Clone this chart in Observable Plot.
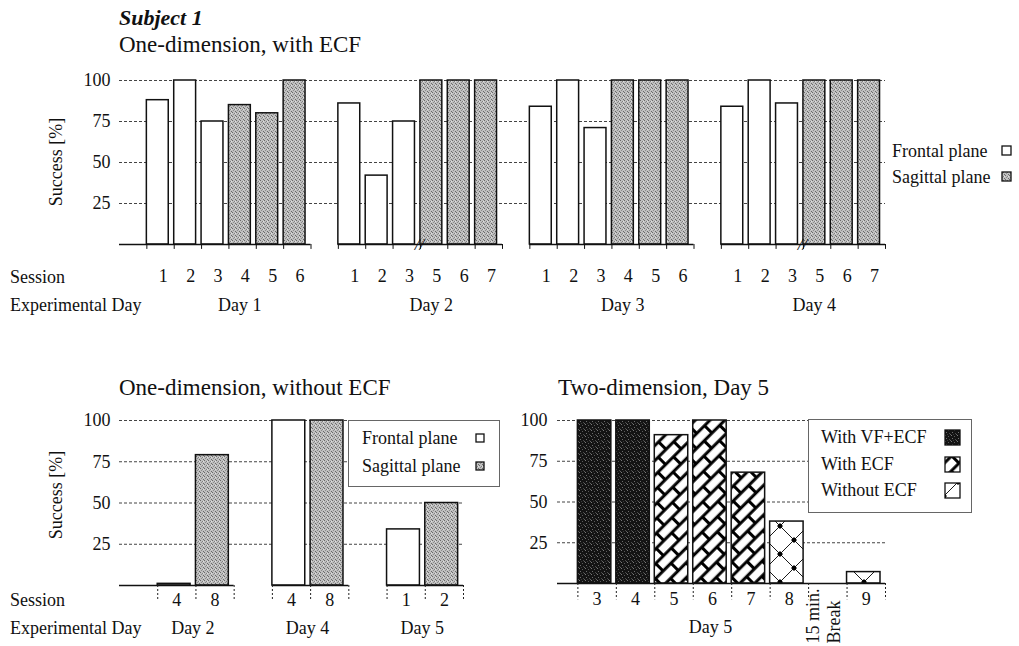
<!DOCTYPE html>
<html><head><meta charset="utf-8">
<script src="https://cdn.jsdelivr.net/npm/d3@7"></script>
<script src="https://cdn.jsdelivr.net/npm/@observablehq/plot@0.6"></script>
<style>
body{margin:0;background:#fff;}
#root{position:relative;width:1019px;height:646px;font-family:"Liberation Serif","Times New Roman",serif;color:#111;overflow:hidden;background:#fff;}
.t{position:absolute;white-space:nowrap;line-height:1;transform:translateY(-50%);}
.legbox{position:absolute;background:#fff;border:1px solid #666;box-sizing:border-box;}
</style></head><body>
<div id="root">
<svg width="0" height="0" style="position:absolute">
<defs>
 <pattern id="stip" width="4" height="4" patternUnits="userSpaceOnUse">
  <rect width="4" height="4" fill="#c0c0c0"/>
  <rect x="0" y="0" width="1" height="1" fill="#6a6a6a"/>
  <rect x="2" y="1" width="1" height="1" fill="#808080"/>
  <rect x="1" y="2" width="1" height="1" fill="#8c8c8c"/>
  <rect x="3" y="3" width="1" height="1" fill="#6a6a6a"/>
  <rect x="3" y="1" width="1" height="1" fill="#e0e0e0"/>
 </pattern>
 <pattern id="dark" width="6" height="6" patternUnits="userSpaceOnUse">
  <rect width="6" height="6" fill="#141414"/>
  <rect x="1" y="0" width="1" height="1" fill="#777"/>
  <rect x="4" y="1" width="1" height="1" fill="#5a5a5a"/>
  <rect x="2" y="3" width="1" height="1" fill="#6e6e6e"/>
  <rect x="5" y="4" width="1" height="1" fill="#4a4a4a"/>
  <rect x="0" y="5" width="1" height="1" fill="#606060"/>
  <rect x="3" y="5" width="1" height="1" fill="#3a3a3a"/>
 </pattern>
 <pattern id="brick" width="22" height="21" patternUnits="userSpaceOnUse" patternTransform="rotate(-45)">
  <rect width="22" height="21" fill="#fff"/>
  <path d="M0,5.25H22M0,15.75H22M5.5,5.25V15.75M16.5,15.75V21M16.5,0V5.25" stroke="#000" stroke-width="3" fill="none"/>
 </pattern>
 <pattern id="diam" width="28" height="28" patternUnits="userSpaceOnUse">
  <rect width="28" height="28" fill="#fff"/>
  <path d="M0,14L14,0L28,14L14,28Z" stroke="#000" stroke-width="0.9" fill="none"/>
  <path d="M14,-3L17,0L14,3L11,0Z M14,25L17,28L14,31L11,28Z M0,11L3,14L0,17L-3,14Z M28,11L31,14L28,17L25,14Z" fill="#000"/>
 </pattern>
</defs></svg>
</div>
<script>
// ---------------- data ----------------
const mainTitle = "Subject 1";
const subtitles = ["One-dimension, with ECF", "One-dimension, without ECF", "Two-dimension, Day 5"];
const yLabel = "Success [%]";
const rowLabels = ["Session", "Experimental Day"];
const yTicks = [25, 50, 75, 100];

// Top panel: one-dimension, with ECF
const topDays = ["Day 1", "Day 2", "Day 3", "Day 4"];
const topSessions = [["1","2","3","4","5","6"], ["1","2","3","5","6","7"], ["1","2","3","4","5","6"], ["1","2","3","5","6","7"]];
const topPlanes = [
  ["Frontal","Frontal","Frontal","Sagittal","Sagittal","Sagittal"],
  ["Frontal","Frontal","Frontal","Sagittal","Sagittal","Sagittal"],
  ["Frontal","Frontal","Frontal","Sagittal","Sagittal","Sagittal"],
  ["Frontal","Frontal","Frontal","Sagittal","Sagittal","Sagittal"]
];
const topSuccess = [[88, 100, 75, 85, 80, 100], [86, 42, 75, 100, 100, 100], [84, 100, 71, 100, 100, 100], [84, 100, 86, 100, 100, 100]];
const topBreakAt = [null, 3, null, 3];

// Bottom-left panel: one-dimension, without ECF
const noEcfDays = ["Day 2", "Day 4", "Day 5"];
const noEcfSessions = [["4","8"], ["4","8"], ["1","2"]];
const noEcfPlanes = [["Frontal","Sagittal"], ["Frontal","Sagittal"], ["Frontal","Sagittal"]];
const noEcfSuccess = [[1, 79], [100, 100], [34, 50]];

// Bottom-right panel: two-dimension, day 5
const twoDDay = "Day 5";
const twoDSlots = ["3", "4", "5", "6", "7", "8", "15 min.\nBreak", "9"];
const twoDSuccess = [100, 100, 91, 100, 68, 38, 0, 7];
const twoDFeedback = ["With VF+ECF", "With VF+ECF", "With ECF", "With ECF", "With ECF", "Without ECF", null, "Without ECF"];

const planeLegend = ["Frontal plane", "Sagittal plane"];
const feedbackLegend = ["With VF+ECF", "With ECF", "Without ECF"];

// ---------------- styles ----------------
const planeFill = {"Frontal": "white", "Sagittal": "url(#stip)"};
const feedbackFill = {"With VF+ECF": "url(#dark)", "With ECF": "url(#brick)", "Without ECF": "url(#diam)"};
const FONT = '"Liberation Serif", "Times New Roman", serif';
const plotStyle = {fontFamily: FONT, fontSize: "18px", background: "transparent", overflow: "visible", color: "#111"};
const gridOpts = {stroke: "#444", strokeDasharray: "3,2", strokeWidth: 1};

const root = document.getElementById("root");
function addText(str, x, y, o = {}) {
  const d = document.createElement("div");
  d.className = "t";
  d.textContent = str;
  d.style.left = x + "px"; d.style.top = y + "px";
  d.style.fontSize = (o.size || 18) + "px";
  if (o.weight) d.style.fontWeight = o.weight;
  if (o.italic) d.style.fontStyle = "italic";
  if (o.rotate) d.style.transform = "translate(-50%,-50%) rotate(-90deg)";
  d.style.zIndex = 5;
  root.appendChild(d);
  return d;
}
function addSwatch(fill, x, y, s) {
  const ns = "http://www.w3.org/2000/svg";
  const svg = document.createElementNS(ns, "svg");
  svg.setAttribute("width", s + 2); svg.setAttribute("height", s + 2);
  svg.style.position = "absolute"; svg.style.left = x + "px"; svg.style.top = y + "px"; svg.style.zIndex = 6;
  const r = document.createElementNS(ns, "rect");
  r.setAttribute("x", 1); r.setAttribute("y", 1); r.setAttribute("width", s); r.setAttribute("height", s);
  r.setAttribute("fill", fill); r.setAttribute("stroke", "#111"); r.setAttribute("stroke-width", 1.3);
  svg.appendChild(r); root.appendChild(svg);
}
function place(svg, left, top) {
  svg.style.position = "absolute"; svg.style.left = left + "px"; svg.style.top = top + "px";
  root.appendChild(svg);
}

// ---------------- top panel ----------------
const topRows = [];
topDays.forEach((day, g) => topSessions[g].forEach((s, i) =>
  topRows.push({day, session: s, plane: topPlanes[g][i], value: topSuccess[g][i], slot: 1 + 7 * g + i})));
const topGroups = topDays.map((day, g) => ({day, start: 1 + 7 * g, first: g === 0 ? 0 : 1 + 7 * g, end: 7 + 7 * g, brk: topBreakAt[g]}));
const topTicks = topGroups.flatMap(g => d3.range(g.start, g.end + 1));

const topPlot = Plot.plot({
  width: 1019, height: 270, marginLeft: 119, marginRight: 134, marginTop: 20, marginBottom: 86,
  x: {domain: [0, 28], axis: null},
  y: {domain: [0, 100], ticks: yTicks, tickSize: 0, tickPadding: 9, label: null},
  style: plotStyle,
  marks: [
    Plot.ruleY(yTicks, gridOpts),
    ...Object.keys(planeFill).map(p => Plot.rect(topRows.filter(d => d.plane === p),
      {x1: "slot", x2: d => d.slot + 0.8, y1: 0, y2: "value", fill: planeFill[p], stroke: "#111", strokeWidth: 1.5})),
    Plot.ruleY(topGroups, {y: 0, x1: "first", x2: "end", stroke: "#111", strokeWidth: 1.5}),
    Plot.ruleX(topTicks, {x: d => d, y1: 0, y2: -3, stroke: "#111"}),
    Plot.text(topGroups.filter(g => g.brk != null), {x: g => g.start + g.brk, y: 0, text: () => "//", fontSize: 17, fontStyle: "italic", dx: -1}),
    Plot.text(topRows, {x: d => d.slot + 0.6, y: 0, dy: 32, text: "session"}),
    Plot.text(topGroups, {x: g => g.start + 3.4, y: 0, dy: 61, text: "day"})
  ]
});
place(topPlot, 0, 60);

// ---------------- bottom-left panel ----------------
const blRows = [];
noEcfDays.forEach((day, g) => noEcfSessions[g].forEach((s, i) =>
  blRows.push({day, session: s, plane: noEcfPlanes[g][i], value: noEcfSuccess[g][i], slot: 1 + 3 * g + i})));
const blGroups = noEcfDays.map((day, g) => ({day, start: 1 + 3 * g, first: g === 0 ? 0 : 1 + 3 * g, end: 3 + 3 * g}));
const blTicks = blGroups.flatMap(g => d3.range(g.start, g.end + 1));

const blPlot = Plot.plot({
  width: 500, height: 246, marginLeft: 119, marginRight: 37, marginTop: 20, marginBottom: 61,
  x: {domain: [0, 9], axis: null},
  y: {domain: [0, 100], ticks: yTicks, tickSize: 0, tickPadding: 9, label: null},
  style: plotStyle,
  marks: [
    Plot.ruleY(yTicks, gridOpts),
    ...Object.keys(planeFill).map(p => Plot.rect(blRows.filter(d => d.plane === p),
      {x1: "slot", x2: d => d.slot + 0.86, y1: 0, y2: "value", fill: planeFill[p], stroke: "#111", strokeWidth: 1.5})),
    Plot.ruleY(blGroups, {y: 0, x1: "first", x2: "end", stroke: "#111", strokeWidth: 1.5}),
    Plot.ruleX(blTicks, {x: d => d, y1: 0, y2: -9, stroke: "#222", strokeDasharray: "2,2"}),
    Plot.text(blRows, {x: d => d.slot + 0.5, y: 0, dy: 15, text: "session"}),
    Plot.text(blGroups, {x: g => g.start + 0.92, y: 0, dy: 43, text: "day"})
  ]
});
place(blPlot, 0, 400);

// ---------------- bottom-right panel ----------------
const brRows = twoDSlots.map((s, i) => ({session: s, value: twoDSuccess[i], feedback: twoDFeedback[i], slot: i}));
const brBars = brRows.filter(d => d.feedback);
const brBreak = brRows.filter(d => !d.feedback);
const brTicks = d3.range(0, twoDSlots.length + 1);

const brPlot = Plot.plot({
  width: 519, height: 246, marginLeft: 57, marginRight: 134, marginTop: 20, marginBottom: 63,
  x: {domain: [-0.53, 8], axis: null},
  y: {domain: [0, 100], ticks: yTicks, tickSize: 0, tickPadding: 10, label: null},
  style: plotStyle,
  marks: [
    Plot.ruleY(yTicks, gridOpts),
    ...feedbackLegend.map(f => Plot.rect(brBars.filter(d => d.feedback === f),
      {x1: "slot", x2: d => d.slot + 0.87, y1: 0, y2: "value", fill: feedbackFill[f], stroke: "#111", strokeWidth: 1.5})),
    Plot.ruleY([0], {stroke: "#111", strokeWidth: 1.5}),
    Plot.ruleX(brTicks, {x: d => d, y1: 0, y2: -10, stroke: "#222", strokeDasharray: "2,2"}),
    Plot.text(brBars, {x: d => d.slot + 0.5, y: 0, dy: 16, text: "session"}),
    Plot.text(brBreak, {x: "slot", y: 0, dx: -4, dy: 60, text: "session", rotate: -90, textAnchor: "start", lineAnchor: "top", lineHeight: 1.15}),
    Plot.text([twoDDay], {x: 3.45, y: 0, dy: 44, text: d => d})
  ]
});
place(brPlot, 500, 400);

// ---------------- titles, labels, legends ----------------
addText(mainTitle, 119, 18, {size: 22, weight: "bold", italic: true});
addText(subtitles[0], 119, 44, {size: 23});
addText(subtitles[1], 119, 387, {size: 23});
addText(subtitles[2], 558, 387, {size: 23});
addText(yLabel, 56, 162, {rotate: true});
addText(yLabel, 56, 495, {rotate: true});
addText(rowLabels[0], 10, 277); addText(rowLabels[1], 10, 305);
addText(rowLabels[0], 10, 600); addText(rowLabels[1], 10, 628);

// top legend
planeLegend.forEach((lab, i) => {
  addText(lab, 892, 151 + 26 * i);
  addSwatch(planeFill[Object.keys(planeFill)[i]], 1001, 145 + 26 * i, 9);
});
// bottom-left legend
const bl = document.createElement("div"); bl.className = "legbox";
Object.assign(bl.style, {left: "348px", top: "420px", width: "152px", height: "67px", zIndex: 4});
root.appendChild(bl);
planeLegend.forEach((lab, i) => {
  addText(lab, 362, 438 + 28 * i);
  addSwatch(planeFill[Object.keys(planeFill)[i]], 475, 433 + 28 * i, 8);
});
// bottom-right legend
const br = document.createElement("div"); br.className = "legbox";
Object.assign(br.style, {left: "808px", top: "419px", width: "164px", height: "94px", zIndex: 4});
root.appendChild(br);
feedbackLegend.forEach((lab, i) => {
  addText(lab, 821, 437 + 26.5 * i);
  addSwatch(feedbackFill[lab], 944, 429 + 26.5 * i, 15);
});
</script>
</body></html>
